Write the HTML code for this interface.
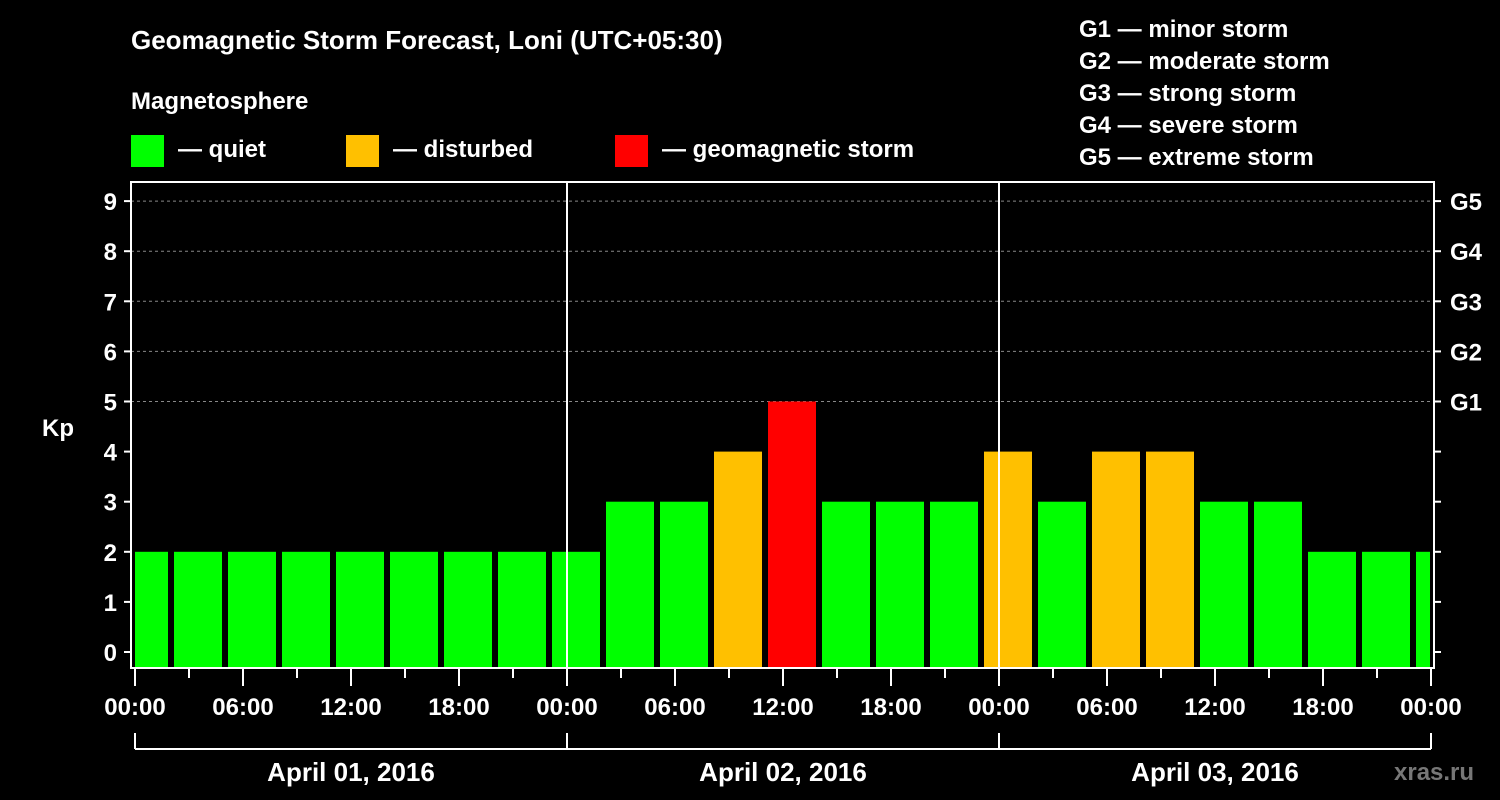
<!DOCTYPE html>
<html><head><meta charset="utf-8"><style>
body{margin:0;background:#000;width:1500px;height:800px;overflow:hidden}
svg{display:block;font-family:"Liberation Sans",Arial,sans-serif;font-weight:bold}
</style></head><body>
<svg id="chart" width="1500" height="800">
<g id="g"></g>
</svg>
<script>
const kpValues=[2,2,2,2,2,2,2,2,2,3,3,4,5,3,3,3,4,3,4,4,3,3,2,2,2];
const barStartHours=-1; // first bar start hour offset
const yTicks=["0","1","2","3","4","5","6","7","8","9"];
const gLabels=["G1","G2","G3","G4","G5"];
const xTickLabels=["00:00","06:00","12:00","18:00","00:00","06:00","12:00","18:00","00:00","06:00","12:00","18:00","00:00"];
const dayLabels=["April 01, 2016","April 02, 2016","April 03, 2016"];
const legendG=["G1 — minor storm","G2 — moderate storm","G3 — strong storm","G4 — severe storm","G5 — extreme storm"];
const NS="http://www.w3.org/2000/svg";
const g=document.getElementById('g');
const X0=135,PXH=18,L=131,R=1434,T=182,B=668;
const x=h=>X0+h*PXH;
const y=v=>652-v*50.1;
function el(tag,attrs,text){const e=document.createElementNS(NS,tag);for(const k in attrs)e.setAttribute(k,attrs[k]);if(text!==undefined)e.textContent=text;g.appendChild(e);return e;}
function col(v){return v>=5?"#ff0000":v>=4?"#ffc000":"#00ff00";}
// grid
for(let v=5;v<=9;v++){const l=el('line',{x1:L,x2:R,y1:y(v),y2:y(v),stroke:'#888','stroke-dasharray':'3,3','stroke-width':1});

}
// bars
kpValues.forEach((v,i)=>{
 let a=x(barStartHours+3*i)+3,b=x(barStartHours+3*i+3)-3;
 a=Math.max(a,L+4);b=Math.min(b,R-4);
 const r=el('rect',{x:a,y:y(v),width:b-a,height:B-1-y(v),fill:col(v)});
 
 
});
// day separators
[24,48].forEach(h=>{const l=el('line',{x1:x(h),x2:x(h),y1:T,y2:B,stroke:'#fff','stroke-width':2});

});
// frame
const fr=el('rect',{x:L,y:T,width:R-L,height:B-T,fill:'none',stroke:'#fff','stroke-width':2});


// y ticks
yTicks.forEach((t,i)=>{
 el('line',{x1:L-7,x2:L,y1:y(i),y2:y(i),stroke:'#fff','stroke-width':2});
 el('line',{x1:R,x2:R+7,y1:y(i),y2:y(i),stroke:'#fff','stroke-width':2});
 const tx=el('text',{x:117,y:y(i)+9,fill:'#fff','font-size':24,'text-anchor':'end'},t);
 
 
});
gLabels.forEach((t,i)=>{const tx=el('text',{x:1450,y:y(i+5)+9,fill:'#fff','font-size':24},t);

});
const kp=el('text',{x:42,y:436,fill:'#fff','font-size':24},'Kp');


// x ticks
for(let h=0;h<=72;h+=3){el('line',{x1:x(h),x2:x(h),y1:B,y2:h%6?678:686,stroke:'#fff','stroke-width':2});}
xTickLabels.forEach((t,i)=>{const tx=el('text',{x:x(i*6),y:715,fill:'#fff','font-size':24,'text-anchor':'middle'},t);

});
// day brackets
el('line',{x1:x(0),x2:x(72),y1:749,y2:749,stroke:'#fff','stroke-width':2});
[0,24,48,72].forEach(h=>el('line',{x1:x(h),x2:x(h),y1:733,y2:749,stroke:'#fff','stroke-width':2}));
dayLabels.forEach((t,i)=>{const tx=el('text',{x:x(i*24+12),y:781,fill:'#fff','font-size':26,'text-anchor':'middle'},t);

});
// titles & legend
const ti=el('text',{x:131,y:49,fill:'#fff','font-size':26},'Geomagnetic Storm Forecast, Loni (UTC+05:30)');


const mg=el('text',{x:131,y:109,fill:'#fff','font-size':24},'Magnetosphere');


[["#00ff00","— quiet",131],["#ffc000","— disturbed",346],["#ff0000","— geomagnetic storm",615]].forEach(([c,t,lx])=>{
 const r=el('rect',{x:lx,y:135,width:33,height:32,fill:c});
 
 
 const tx=el('text',{x:lx+47,y:157,fill:'#fff','font-size':24},t);
 
 
});
legendG.forEach((t,i)=>{const tx=el('text',{x:1079,y:37+i*32,fill:'#fff','font-size':24},t);

});
const wm=el('text',{x:1394,y:780,fill:'#777','font-size':24},'xras.ru');


</script>
</body></html>
